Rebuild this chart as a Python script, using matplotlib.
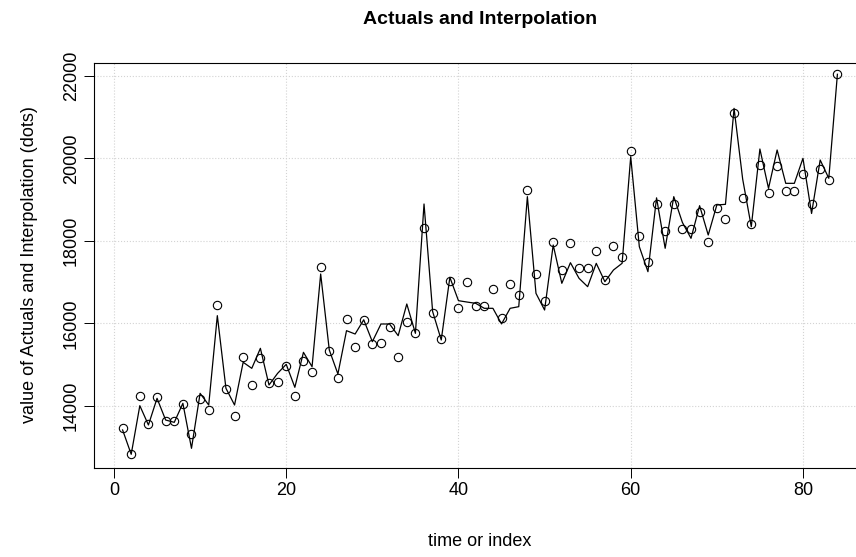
import numpy as np
import matplotlib
matplotlib.use("Agg")
import matplotlib.pyplot as plt

plt.rcParams['font.family'] = ['Liberation Sans', 'DejaVu Sans']

# data
index = np.arange(1, 85)
actuals = [13474, 12829, 14242, 13571, 14226, 13629, 13629, 14048, 13329, 14162,
           13895, 16448, 14404, 13758, 15180, 14517, 15154, 14566, 14574, 14970,
           14250, 15099, 14832, 17378, 15333, 14679, 16109, 15438, 16077, 15503,
           15519, 15907, 15188, 16029, 15762, 18307, 16263, 15616, 17038, 16384,
           17014, 16424, 16424, 16836, 16141, 16950, 16691, 19245, 17192, 16545,
           17976, 17305, 17952, 17353, 17353, 17765, 17055, 17886, 17620, 20190,
           18121, 17483, 18909, 18242, 18897, 18291, 18291, 18703, 17984, 18812,
           18545, 21110, 19054, 18412, 19835, 19171, 19818, 19212, 19212, 19632,
           18909, 19745, 19479, 22042]
interp = [13420, 12829, 14008, 13540, 14186, 13660, 13604, 14065, 12974, 14307,
          14024, 16190, 14429, 14024, 15060, 14913, 15398, 14509, 14792, 15010,
          14453, 15301, 14953, 17200, 15358, 14776, 15826, 15745, 16090, 15559,
          15988, 15988, 15705, 16473, 15762, 18897, 16290, 15600, 17119, 16553,
          16520, 16489, 16368, 16368, 15990, 16368, 16408, 19075, 16731, 16327,
          17903, 16974, 17474, 17095, 16893, 17458, 17014, 17297, 17459, 20044,
          17862, 17256, 19046, 17823, 19075, 18450, 18065, 18856, 18145, 18873,
          18889, 21216, 19500, 18347, 20230, 19276, 20206, 19398, 19398, 20004,
          18667, 19964, 19520, 22042]
xticks = [0, 20, 40, 60, 80]
yticks = [14000, 16000, 18000, 20000, 22000]

fig = plt.figure(figsize=(8.56, 5.57), dpi=100)
W, H = 856, 557
ax = fig.add_axes([94 / W, (H - 468) / H, 772 / W, 405 / H])

ax.grid(True, color='lightgray', linestyle=':', linewidth=0.8, zorder=0)
ax.plot(index, interp, color='black', linewidth=0.9, zorder=2)
ax.plot(index, actuals, linestyle='none', marker='o', markersize=6,
        markerfacecolor='none', markeredgecolor='black', markeredgewidth=0.8, zorder=3)

n = len(index)
ax.set_xlim(1 - 0.04 * (n - 1), n + 0.04 * (n - 1))
ax.set_ylim(12497, 22315)
ax.set_xticks(xticks)
ax.set_yticks(yticks)
ax.tick_params(direction='out', length=7, width=0.7, labelsize=13, pad=3, colors='black')
for lab in ax.get_yticklabels():
    lab.set_rotation(90)
    lab.set_va('center')
for s in ax.spines.values():
    s.set_linewidth(0.8)

cx = (94 + 866) / 2 / W
fig.text(cx, 1 - 20 / H, 'Actuals and Interpolation', ha='center', va='center',
         fontsize=14, fontweight='bold')
fig.text(cx, 1 - 541 / H, 'time or index', ha='center', va='center', fontsize=13)
fig.text(30 / W, 1 - 265 / H, 'value of Actuals and Interpolation (dots)',
         ha='center', va='center', rotation=90, fontsize=13)

fig.savefig('out.png', dpi=100)
